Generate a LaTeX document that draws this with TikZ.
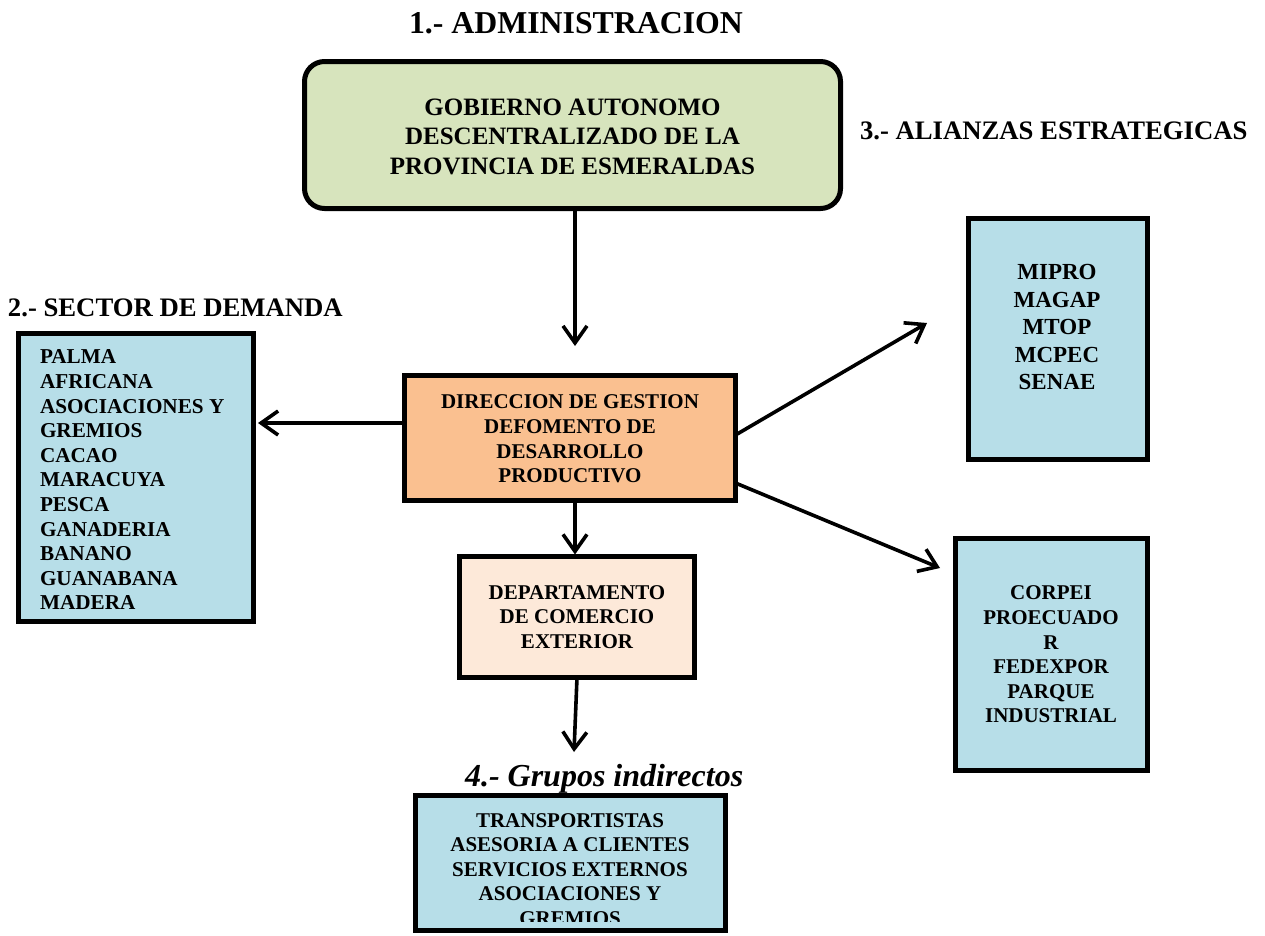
\documentclass[tikz,border=0pt]{standalone}
\usepackage{fontspec}
\setmainfont{Liberation Serif}
\usetikzlibrary{arrows.meta}
\definecolor{gGreen}{HTML}{D7E4BD}
\definecolor{gOrange}{HTML}{FAC090}
\definecolor{gPeach}{HTML}{FDE9D9}
\definecolor{gBlue}{HTML}{B7DEE8}
\begin{document}
\begin{tikzpicture}[x=1pt,y=-1pt,
  box/.style={draw=black, line width=5pt, inner sep=0pt, outer sep=0pt},
  txt/.style={inner sep=0pt, outer sep=0pt, align=center, text=black},
  head/.style={inner sep=0pt, outer sep=0pt, anchor=base west, text=black},
  arr/.style={line width=3.6pt, -{Straight Barb[length=17pt,width=24pt]}}]
\useasboundingbox (0,0) rectangle (1265,935);

% headings
\node[head, font=\bfseries\fontsize{31.8pt}{36pt}\selectfont] (h1) at (409,33) {1.- ADMINISTRACION};
\node[head, font=\bfseries\fontsize{26.7pt}{31pt}\selectfont] (h2) at (8,316) {2.- SECTOR DE DEMANDA};
\node[head, font=\bfseries\fontsize{26.7pt}{31pt}\selectfont] (h3) at (860,139) {3.- ALIANZAS ESTRATEGICAS};
\node[head, font=\bfseries\itshape\fontsize{32pt}{36pt}\selectfont] (h4) at (465,786) {4.- Grupos indirectos};

% boxes
\node[box, fill=gGreen, rounded corners=20pt, minimum width=536pt, minimum height=147pt] (gov) at (572.5,135) {};
\node[txt, font=\bfseries\fontsize{25pt}{29.5pt}\selectfont] (govt) at (572.5,136.5)
  {GOBIERNO AUTONOMO\\DESCENTRALIZADO DE LA\\PROVINCIA DE ESMERALDAS};

\node[box, fill=gOrange, minimum width=331pt, minimum height=125pt] (dir) at (570,438) {};
\node[txt, font=\bfseries\fontsize{21pt}{24.6pt}\selectfont] (dirt) at (570,439)
  {DIRECCION DE GESTION\\DEFOMENTO DE\\DESARROLLO\\PRODUCTIVO};

\node[box, fill=gBlue, minimum width=235pt, minimum height=288pt] (left) at (136,477.5) {};
\node[txt, align=left, anchor=west, font=\bfseries\fontsize{21.2pt}{24.6pt}\selectfont] (leftt) at (40,480)
  {PALMA\\AFRICANA\\ASOCIACIONES Y\\GREMIOS\\CACAO\\MARACUYA\\PESCA\\GANADERIA\\BANANO\\GUANABANA\\MADERA};

\node[box, fill=gPeach, minimum width=235pt, minimum height=121pt] (dep) at (577,617) {};
\node[txt, font=\bfseries\fontsize{21pt}{24.8pt}\selectfont] (dept) at (577,617)
  {DEPARTAMENTO\\DE COMERCIO\\EXTERIOR};

\node[box, fill=gBlue, minimum width=179pt, minimum height=241pt] (mipro) at (1058,339) {};
\node[txt, font=\bfseries\fontsize{23pt}{27.5pt}\selectfont] (miprot) at (1057,327)
  {MIPRO\\MAGAP\\MTOP\\MCPEC\\SENAE};

\node[box, fill=gBlue, minimum width=192pt, minimum height=232pt] (corpei) at (1051.5,654.5) {};
\node[txt, font=\bfseries\fontsize{21pt}{24.6pt}\selectfont] (corpeit) at (1051,654.5)
  {CORPEI\\PROECUADO\\R\\FEDEXPOR\\PARQUE\\INDUSTRIAL};

\node[box, fill=gBlue, minimum width=310pt, minimum height=135pt] (bot) at (570.5,862.5) {};
\begin{scope}
  \clip (415.5,795.5) rectangle (725.5,921);
  \node[txt, font=\bfseries\fontsize{21pt}{24.4pt}\selectfont] (bott) at (570,869.5)
    {TRANSPORTISTAS\\ASESORIA A CLIENTES\\SERVICIOS EXTERNOS\\ASOCIACIONES Y\\GREMIOS};
\end{scope}
\draw[line width=5pt] (bot.south west) rectangle (bot.north east);

% connectors
\coordinate (t1) at (575,346);
\draw[arr] (gov.south -| t1) -- (t1);
\coordinate (yL) at (0,423);
\draw[arr, shorten >=4.5pt] (dir.west |- yL) -- (left.east |- yL);
\coordinate (xD) at (575,0);
\draw[arr, shorten >=2pt] (dir.south -| xD) -- (dep.north -| xD);
\coordinate (t4) at (574,752);
\draw[arr] (dep.south) -- (t4);
\coordinate (s5) at (0,435);
\coordinate (t5) at (927,323);
\draw[arr] (dir.east |- s5) -- (t5);
\coordinate (s6) at (0,483);
\coordinate (t6) at (940,568);
\draw[arr] (dir.east |- s6) -- (t6);
\end{tikzpicture}
\end{document}
